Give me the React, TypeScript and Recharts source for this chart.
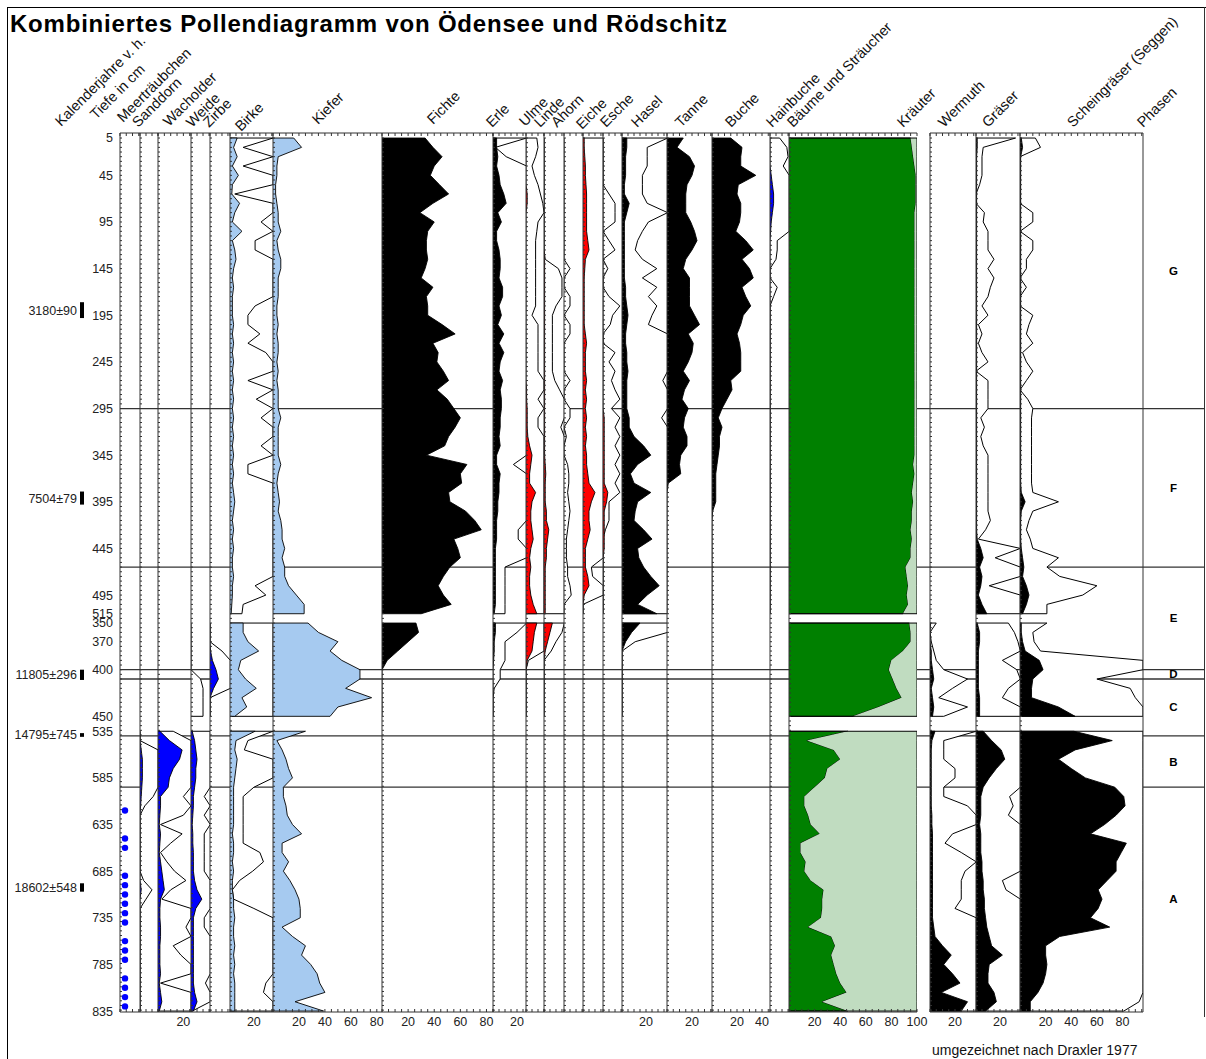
import React from "react";
import { ComposedChart, Area, Scatter, XAxis, YAxis, ReferenceLine, ReferenceArea } from "recharts";

const W = 1206;
const H = 1059;
const FONT = '"Liberation Sans", Arial, Helvetica, sans-serif';
const PLOT_TOP = 133;
const BOTTOM_GAP = 47; // plot ends at y = 1012
const Y_DOMAIN: [number, number] = [-5.4, 937];

const BLACK = "#000000";
const LBLUE = "#a6caf0";
const BLUE = "#0000ff";
const RED = "#ff0000";
const GREEN = "#008000";
const LGREEN = "#c0dcc0";

// sample depths (cm) of the three core sections
const depthTop = [5, 15, 25, 35, 45, 55, 65, 75, 85, 95, 105, 115, 125, 135, 145, 155, 165, 175, 185, 195, 205, 215, 225, 235, 245, 255, 265, 275, 285, 295, 305, 315, 325, 335, 345, 355, 365, 375, 385, 395, 405, 415, 425, 435, 445, 455, 465, 475, 485, 495, 505, 515];
const depthMid = [350, 360, 370, 380, 390, 400, 410, 420, 430, 440, 450];
const depthBot = [535, 545, 555, 565, 575, 585, 595, 605, 615, 625, 635, 645, 655, 665, 675, 685, 695, 705, 715, 725, 735, 745, 755, 765, 775, 785, 795, 805, 815, 825, 835];

// depth axis labels
const depthLabelsTop = [5, 45, 95, 145, 195, 245, 295, 345, 395, 445, 495, 515];
const depthLabelsMid = [350, 370, 400, 450];
const depthLabelsBot = [535, 585, 635, 685, 735, 785, 835];

// radiocarbon dates
const dateLabels = ["3180±90", "7504±79", "11805±296", "14795±745", "18602±548"];
const dateSection: Sec[] = ["top", "top", "mid", "bot", "bot"];
const dateFrom = [181, 384, 400, 537, 698];
const dateTo = [198, 398, 411, 541, 707];

// phases
const phaseNames = ["G", "F", "E", "D", "C", "B", "A"];
const phaseSection: Sec[] = ["top", "top", "top", "mid", "mid", "bot", "bot"];
const phaseDepth = [148, 380, 520, 405, 440, 568, 715];
const boundarySection: Sec[] = ["top", "top", "mid", "mid", "bot", "bot"];
const boundaryDepth = [295, 465, 400, 410, 540, 595];

// Meerträubchen: presence only
const meerDots = [620, 650, 660, 690, 700, 710, 720, 730, 740, 760, 770, 780, 800, 810, 820, 830];
const MEER_MARK = 4;

// percentages (…X = exaggerated curve)
const sandBot = [0, 0, 1, 2, 2, 2, 1.5, 1, 0.5, 0, 0, 0, 0, 0, 0, 0, 0, 1, 0, 0, 0, 0, 0, 0, 0, 0, 0, 0, 0, 0, 0];
const sandBotX = [0, 0, 15, 15, 15, 15, 15, 11, 4, 0, 0, 0, 0, 0, 0, 0, 3, 10, 5, 0, 0, 0, 0, 0, 0, 0, 0, 0, 0, 0, 0];

const wachBot = [1.5, 9, 19, 17, 12, 9, 8, 2, 2, 1.5, 1, 2, 1.5, 1, 2, 3, 4, 5, 2, 1.5, 1.5, 2, 2, 1.5, 1.5, 1.5, 2, 1, 2, 3, 1];
const wachBotX = [12, 26, 26, 26, 26, 26, 26, 20, 26, 20, 2, 19, 10, 2, 7, 13, 22, 10, 3, 26, 26, 22, 26, 12, 18, 26, 26, 2, 26, 26, 26];

const weideMidX = [0, 0, 0, 0, 0, 0, 8, 10, 10, 10, 10];
const weideBot = [1, 3, 4, 5, 4, 4, 3, 2, 2, 1.5, 1, 1.5, 1.5, 2, 2, 2, 3, 5, 9, 4, 2, 2, 2, 2, 2, 2, 2, 2, 3, 5, 2];
const weideBotX = [16, 16, 16, 16, 16, 16, 16, 11, 16, 11, 16, 11, 11, 11, 11, 11, 16, 16, 16, 16, 11, 11, 16, 16, 16, 16, 16, 12, 16, 16, 1];

const zirbeMid = [0, 0, 0, 0.5, 2, 5, 7, 3, 0, 0, 0];
const zirbeMidX = [0, 0, 0, 10, 17, 17, 17, 17, 0, 0, 0];

const birkeTop = [6, 3, 6, 2, 7, 2, 1.5, 8, 4, 2, 10, 2, 4, 5, 3, 2, 3, 2, 2, 2, 3, 2, 3, 2, 3, 2, 3, 2, 3, 2, 3, 2, 3, 2, 3, 2, 3, 2, 3, 4, 3, 2, 3, 2, 3, 2, 2, 3, 2, 2, 1.5, 1];
const birkeTopX = [36, 11, 36, 11, 36, 36, 4, 36, 36, 26, 36, 21, 21, 36, 36, 36, 36, 36, 21, 15, 15, 25, 15, 30, 36, 36, 15, 36, 22, 36, 26, 36, 36, 26, 36, 15, 15, 36, 36, 36, 36, 36, 36, 36, 36, 36, 36, 36, 21, 30, 11, 10];
const birkeMid = [11, 11, 15, 24, 9, 7, 13, 22, 10, 14, 4];
const birkeMidX = [36, 36, 36, 36, 36, 36, 36, 36, 36, 36, 36];
const birkeBot = [21, 5, 4, 6, 5, 4, 3, 3, 3, 3, 3, 2, 3, 3, 2, 3, 2, 2, 3, 3, 4, 3, 3, 4, 3, 4, 3, 4, 4, 4, 4];
const birkeBotX = [36, 15, 12, 36, 36, 36, 20, 11, 11, 11, 11, 11, 11, 25, 28, 19, 8, 2, 3, 20, 36, 36, 36, 36, 36, 36, 36, 30, 28, 36, 36];

const kieferTop = [16, 22, 4, 3, 3, 2, 2, 3, 4, 4, 6, 3, 4, 6, 6, 4, 4, 4, 3, 3, 4, 3, 4, 4, 3, 4, 3, 4, 4, 4, 6, 4, 4, 4, 4, 6, 4, 3, 4, 5, 4, 6, 7, 7, 9, 7, 9, 9, 12, 18, 24, 24];
const kieferMid = [27, 35, 50, 44, 53, 67, 67, 56, 76, 50, 44];
const kieferBot = [25, 3, 7, 10, 12, 15, 8, 8, 10, 11, 15, 22, 7, 7, 12, 8, 13, 17, 20, 21, 21, 7, 15, 25, 22, 29, 34, 36, 40, 17, 39];

const fichteTop = [33, 39, 46, 40, 37, 44, 51, 39, 29, 40, 35, 34, 34, 35, 33, 30, 39, 34, 35, 35, 46, 56, 39, 43, 42, 47, 51, 42, 50, 55, 60, 56, 51, 48, 34, 65, 60, 61, 51, 52, 64, 71, 76, 55, 58, 60, 52, 47, 43, 47, 53, 30];
const fichteMid = [26, 28, 20, 12, 4, 0, 0, 0, 0, 0, 0];

const erleTop = [3, 3, 4, 3, 5, 6, 9, 11, 4, 7, 3, 3, 5, 6, 6, 5, 8, 8, 5, 7, 4, 9, 5, 9, 6, 5, 8, 6, 7, 7, 6, 6, 5, 6, 3, 3, 6, 5, 5, 4, 4, 3, 3, 3, 2, 2, 2, 2, 2, 2, 2, 1];
const erleTopX = [28, 2, 11, 28, 28, 28, 28, 28, 28, 28, 28, 28, 28, 28, 28, 28, 28, 28, 28, 28, 28, 28, 28, 28, 28, 28, 28, 28, 28, 28, 28, 28, 28, 28, 28, 17, 28, 28, 28, 28, 28, 28, 21, 21, 28, 28, 10, 10, 10, 10, 10, 10];
const erleMid = [2, 2, 1, 1, 0.5, 0, 0, 0, 0, 0, 0];
const erleMidX = [28, 20, 10, 10, 10, 6, 6, 1, 0, 0, 0];

const ulmeTop = [0, 0, 0, 0, 0, 0, 1, 1, 0, 0, 0, 0, 0, 0, 0, 0, 0, 0, 0, 0, 0, 0, 0, 0, 0, 0, 0, 0.5, 0.5, 1, 1, 1, 1.5, 3, 5, 4, 3, 3, 8, 5, 4, 4, 5, 6, 4, 3, 4, 3, 3, 4, 6, 9];
const ulmeTopX = [9, 10, 8, 5, 7, 10, 12, 14, 15, 10, 9, 8, 8, 8, 8, 8, 8, 8, 8, 5, 10, 10, 10, 10, 10, 10, 15, 15, 10, 15, 10, 10, 15, 15, 15, 15, 15, 15, 15, 15, 15, 15, 15, 15, 15, 15, 15, 15, 15, 15, 15, 15];
const ulmeMid = [9, 7, 6, 5, 1, 0, 0, 0, 0, 0, 0];
const ulmeMidX = [15, 15, 15, 15, 2, 0, 0, 0, 0, 0, 0];

const lindeTop = [0, 0, 0, 0, 0, 0, 0, 0, 0, 0, 0, 0, 0, 0.5, 0.5, 0.5, 0.5, 0.5, 0.5, 0.5, 0.5, 0.5, 0.5, 0.5, 0.5, 0.5, 0.5, 0.5, 0.5, 0.5, 0.5, 0.5, 0.5, 0.5, 0.5, 1, 1.5, 1, 1, 1, 2, 2, 4, 3, 2, 2, 1, 1, 1, 1, 1, 1];
const lindeTopX = [0, 0, 0, 0, 0, 0, 0, 0, 0, 0, 0, 0, 0, 1, 12, 15, 15, 15, 10, 7, 7, 7, 7, 7, 7, 7, 9, 13, 17, 17, 17, 14, 17, 17, 17, 17, 17, 17, 17, 17, 17, 17, 17, 17, 17, 17, 17, 17, 17, 17, 17, 17];
const lindeMid = [7, 5, 3, 1, 0, 0, 0, 0, 0, 0, 0];
const lindeMidX = [17, 15, 10, 6, 0, 0, 0, 0, 0, 0, 0];

const ahornTopX = [0, 0, 0, 0, 0, 0, 0, 0, 0, 0, 0, 0, 0, 0, 5, 0, 0, 5, 5, 0, 5, 5, 0, 0, 0, 0, 5, 0, 0, 5, 5, 0, 2, 0, 0, 3, 4, 4, 3, 4, 5, 4, 3, 2, 2, 2, 3, 3, 5, 6, 0, 0];

const eicheTop = [1, 1, 1.5, 2, 2, 2.5, 3, 3, 3, 3, 3, 4, 5, 2, 1.5, 1, 1, 1, 1, 1, 1, 2, 3, 2, 2, 2, 3, 2, 3, 2, 3, 2, 3, 2, 3, 3, 4, 5, 10, 7, 5, 5, 6, 4, 2, 2, 2, 4, 5, 1, 0, 0];
const eicheTopX = [17, 17, 17, 17, 17, 17, 17, 17, 17, 17, 17, 17, 17, 17, 17, 17, 17, 17, 17, 17, 17, 17, 17, 17, 17, 17, 17, 17, 17, 17, 17, 17, 17, 17, 17, 17, 17, 17, 17, 17, 17, 17, 17, 17, 17, 17, 7, 8, 17, 17, 0, 0];

const escheTop = [0, 0, 0, 0, 0, 0, 0, 0, 0, 0, 0, 0, 0, 0, 0, 0, 0, 0, 0, 0, 0, 0, 0, 0, 0, 0, 0, 0, 0, 0, 1, 1, 1, 1, 1, 1, 1, 1, 4, 3, 1, 1, 1, 1, 1, 0, 0, 0, 0, 0, 0, 0];
const escheTopX = [0, 0, 0, 0, 0, 0, 5, 10, 10, 10, 0, 5, 10, 0, 4, 0, 0, 5, 14, 8, 6, 0, 0, 10, 5, 10, 7, 10, 14, 7, 14, 10, 14, 10, 14, 10, 14, 10, 14, 5, 5, 5, 2, 0, 0, 0, 0, 0, 0, 0, 0, 0];

const haselTop = [4, 4, 3, 3, 3, 2, 2, 6, 4, 2, 2, 2, 2, 2, 2, 2, 3, 3, 4, 5, 4, 3, 3, 4, 4, 5, 4, 4, 4, 4, 6, 6, 10, 18, 24, 13, 7, 10, 24, 13, 11, 10, 18, 25, 13, 14, 18, 24, 31, 21, 13, 29];
const haselTopX = [38, 21, 21, 21, 17, 17, 17, 21, 38, 22, 17, 13, 11, 17, 29, 17, 29, 22, 29, 25, 22, 38, 38, 38, 38, 38, 34, 38, 38, 38, 33, 38, 38, 38, 38, 38, 38, 38, 38, 38, 38, 38, 38, 38, 38, 38, 38, 38, 38, 38, 38, 38];
const haselMid = [15, 8, 3, 0, 0, 0, 0, 0, 0, 0, 0];
const haselMidX = [38, 38, 11, 0, 0, 0, 0, 0, 0, 0, 0];

const tanneTop = [13, 8, 18, 22, 20, 16, 15, 15, 15, 19, 22, 24, 20, 15, 13, 18, 18, 18, 18, 22, 26, 17, 21, 20, 17, 13, 18, 14, 12, 17, 14, 13, 16, 16, 11, 10, 11, 1, 0, 0, 0, 0, 0, 0, 0, 0, 0, 0, 0, 0, 0, 0];
const bucheTop = [15, 24, 23, 23, 35, 21, 20, 23, 23, 22, 19, 27, 33, 24, 30, 33, 24, 27, 31, 25, 23, 20, 22, 23, 23, 23, 15, 16, 12, 8, 5, 8, 6, 6, 5, 4, 3, 3, 3, 3, 0.5, 0, 0, 0, 0, 0, 0, 0, 0, 0, 0, 0];

const hainTop = [0, 0, 0, 0, 1, 2, 3, 3, 2, 1, 0.5, 0, 0, 0, 0, 0, 0, 0, 0, 0, 0, 0, 0, 0, 0, 0, 0, 0, 0, 0, 0, 0, 0, 0, 0, 0, 0, 0, 0, 0, 0, 0, 0, 0, 0, 0, 0, 0, 0, 0, 0, 0];
const hainTopX = [8, 14, 15, 11, 16, 16, 16, 16, 16, 16, 16, 6, 6, 5, 0, 0, 6, 3, 0, 0, 0, 0, 0, 0, 0, 0, 0, 0, 0, 0, 0, 0, 0, 0, 0, 0, 0, 0, 0, 0, 0, 0, 0, 0, 0, 0, 0, 0, 0, 0, 0, 0];

const baeumeTop = [95, 96, 97, 98, 99, 99, 99, 99, 98, 98, 98, 98, 98, 98, 98, 98, 98, 98, 98, 98, 98, 98, 98, 98, 98, 98, 98, 98, 98, 98, 98, 98, 98, 98, 98, 97, 98, 97, 96, 97, 96, 96, 95, 96, 95, 95, 91, 92, 93, 92, 93, 89];
const baeumeMid = [94, 95, 95, 89, 80, 78, 81, 84, 88, 70, 50];
const baeumeBot = [46, 14, 35, 40, 30, 28, 20, 12, 12, 15, 17, 24, 9, 9, 13, 12, 17, 27, 26, 26, 25, 15, 33, 36, 33, 35, 37, 40, 45, 26, 46];
// Kräuter share = the rest up to 100 %
const kraeuterTop = baeumeTop.map((v) => 100 - v);
const kraeuterMid = baeumeMid.map((v) => 100 - v);
const kraeuterBot = baeumeBot.map((v) => 100 - v);

const wermutMid = [0.5, 0, 0, 1, 1, 2, 3, 1, 2, 3, 2];
const wermutMidX = [5, 0, 1, 3, 5, 11, 30, 18, 7, 30, 11];
const wermutBot = [4, 1.5, 1, 1, 1, 1, 1, 1, 1, 1.5, 1.5, 2, 2, 2, 2, 2, 2, 2, 2, 2, 2, 3, 4, 10, 17, 11, 18, 24, 9, 30, 25];
const wermutBotX = [37, 11, 11, 11, 20, 20, 11, 11, 30, 37, 37, 18, 12, 25, 37, 28, 25, 25, 25, 20, 37, 37, 37, 37, 37, 37, 37, 37, 37, 37, 37];

const graeserTop = [1, 1, 0.5, 0.5, 0.5, 0.5, 0.5, 0.5, 0.5, 0.5, 0.5, 0.5, 0.5, 0.5, 0.5, 0.5, 0.5, 0.5, 0.5, 0.5, 0.5, 0.5, 0.5, 0.5, 0.5, 0.5, 0.5, 0.5, 0.5, 0.5, 0.5, 0.5, 0.5, 0.5, 0.5, 0.5, 0.5, 0.5, 0.5, 0.5, 0.5, 0.5, 0.5, 1, 4, 6, 3, 5, 4, 2, 5, 9];
const graeserTopX = [33, 6, 5, 5, 5, 3, 0, 0, 7, 6, 10, 10, 10, 15, 10, 15, 12, 10, 5, 10, 2, 5, 2, 5, 10, 0, 10, 10, 10, 10, 4, 7, 4, 6, 10, 10, 10, 10, 10, 10, 10, 12, 8, 2, 37, 16, 37, 37, 11, 37, 37, 37];
const graeserMid = [1, 3, 3, 2, 2, 2, 2, 2, 3, 3, 3];
const graeserMidX = [27, 32, 35, 37, 22, 34, 37, 27, 22, 37, 37];
const graeserBot = [6, 13, 21, 24, 17, 11, 6, 4, 4, 4, 3, 4, 4, 4, 5, 5, 6, 6, 7, 7, 8, 9, 11, 13, 22, 11, 10, 10, 15, 17, 8];
const graeserBotX = [37, 37, 37, 37, 37, 37, 37, 28, 31, 27, 37, 37, 37, 37, 37, 37, 22, 25, 37, 37, 37, 37, 37, 37, 37, 37, 37, 37, 37, 37, 37];

const scheinTop = [1, 2, 0.5, 0.5, 0.5, 0.5, 0.5, 0.5, 0.5, 0.5, 0.5, 0.5, 0.5, 0.5, 0.5, 0.5, 0.5, 0.5, 0.5, 0.5, 0.5, 0.5, 0.5, 0.5, 0.5, 0.5, 0.5, 0.5, 0.5, 0.5, 0.5, 0.5, 0.5, 0.5, 0.5, 0.5, 0.5, 0.5, 1, 4, 1, 0.5, 0.5, 0.5, 1, 2, 3, 2, 5, 7, 5, 2];
const scheinTopX = [12, 16, 0, 0, 0, 0, 0, 0, 10, 10, 0, 10, 10, 5, 5, 0, 5, 0, 0, 10, 7, 5, 10, 2, 5, 10, 5, 0, 6, 10, 9, 9, 9, 9, 9, 9, 9, 9, 10, 30, 10, 7, 5, 8, 10, 30, 21, 31, 60, 49, 21, 21];
const scheinMid = [1, 1, 2, 4, 15, 18, 10, 9, 9, 30, 43];
const scheinMidX = [21, 10, 11, 16, 96, 96, 60, 86, 90, 96, 96];
const scheinBot = [42, 72, 43, 30, 40, 51, 74, 81, 82, 75, 66, 55, 83, 79, 75, 75, 68, 61, 64, 61, 55, 70, 31, 20, 20, 21, 20, 18, 14, 8, 8];
const scheinBotX = [96, 96, 96, 96, 96, 96, 96, 96, 96, 96, 96, 96, 96, 96, 96, 96, 96, 96, 96, 96, 96, 96, 96, 96, 96, 96, 96, 96, 96, 93, 81];

// column headings
const headerText = ["Kalenderjahre v. h.", "Tiefe in cm", "Meerträubchen", "Sanddorn", "Wacholder", "Weide", "Zirbe", "Birke", "Kiefer", "Fichte", "Erle", "Ulme", "Linde", "Ahorn", "Eiche", "Esche", "Hasel", "Tanne", "Buche", "Hainbuche", "Bäume und Sträucher", "Kräuter", "Wermuth", "Gräser", "Scheingräser (Seggen)", "Phasen"];
const headerX = [61, 96, 123, 138, 169, 192, 209, 241, 318, 433, 492, 525, 540, 557, 582, 606, 637, 681, 731, 772, 793, 903, 944, 988, 1073, 1143];
const headerY = [127, 120, 123, 128, 127, 128, 128, 132, 125, 125, 128, 127, 128, 128, 130, 128, 128, 128, 128, 128, 128, 128, 128, 128, 128, 128];

type Sec = "top" | "mid" | "bot";
type Sections = [number[] | null, number[] | null, number[] | null];

const toPos = (sec: Sec, d: number) => (sec === "top" ? d - 5 : sec === "mid" ? d - 350 + 520 : d - 535 + 636);

const SECTIONS: { id: Sec; depths: number[] }[] = [
  { id: "top", depths: depthTop },
  { id: "mid", depths: depthMid },
  { id: "bot", depths: depthBot },
];

interface PanelDef {
  id: string;
  left: number;
  width: number;
  max: number;
  color?: string;
  main?: Sections;
  exag?: Sections;
  rest?: Sections;
  dots?: number[];
}

const panels: PanelDef[] = [
  { id: "meer", left: 120, width: 20, max: 16, dots: meerDots },
  { id: "sand", left: 140, width: 18, max: 15, color: BLUE, main: [null, null, sandBot], exag: [null, null, sandBotX] },
  { id: "wach", left: 158, width: 33, max: 26, color: BLUE, main: [null, null, wachBot], exag: [null, null, wachBotX] },
  { id: "weide", left: 191, width: 19, max: 15.8, color: BLUE, main: [null, null, weideBot], exag: [null, weideMidX, weideBotX] },
  { id: "zirbe", left: 210, width: 20, max: 16.7, color: BLUE, main: [null, zirbeMid, null], exag: [null, zirbeMidX, null] },
  { id: "birke", left: 230, width: 43, max: 36, color: LBLUE, main: [birkeTop, birkeMid, birkeBot], exag: [birkeTopX, birkeMidX, birkeBotX] },
  { id: "kiefer", left: 273, width: 109, max: 84, color: LBLUE, main: [kieferTop, kieferMid, kieferBot] },
  { id: "fichte", left: 382, width: 111, max: 85, color: BLACK, main: [fichteTop, fichteMid, null] },
  { id: "erle", left: 493, width: 33, max: 27.5, color: BLACK, main: [erleTop, erleMid, null], exag: [erleTopX, erleMidX, null] },
  { id: "ulme", left: 526, width: 18, max: 15, color: RED, main: [ulmeTop, ulmeMid, null], exag: [ulmeTopX, ulmeMidX, null] },
  { id: "linde", left: 544, width: 20, max: 16.7, color: RED, main: [lindeTop, lindeMid, null], exag: [lindeTopX, lindeMidX, null] },
  { id: "ahorn", left: 564, width: 19, max: 15.8, color: RED, exag: [ahornTopX, null, null] },
  { id: "eiche", left: 583, width: 20, max: 16.7, color: RED, main: [eicheTop, null, null], exag: [eicheTopX, null, null] },
  { id: "esche", left: 603, width: 19, max: 15.8, color: RED, main: [escheTop, null, null], exag: [escheTopX, null, null] },
  { id: "hasel", left: 622, width: 45, max: 37.5, color: BLACK, main: [haselTop, haselMid, null], exag: [haselTopX, haselMidX, null] },
  { id: "tanne", left: 667, width: 45, max: 36, color: BLACK, main: [tanneTop, null, null] },
  { id: "buche", left: 712, width: 58, max: 46.4, color: BLACK, main: [bucheTop, null, null] },
  { id: "hain", left: 770, width: 19, max: 15.8, color: BLUE, main: [hainTop, null, null], exag: [hainTopX, null, null] },
  { id: "baeume", left: 789, width: 128, max: 100, color: GREEN, main: [baeumeTop, baeumeMid, baeumeBot], rest: [kraeuterTop, kraeuterMid, kraeuterBot] },
  { id: "wermut", left: 930, width: 46, max: 36.8, color: BLACK, main: [null, wermutMid, wermutBot], exag: [null, wermutMidX, wermutBotX] },
  { id: "graeser", left: 976, width: 44, max: 36.7, color: BLACK, main: [graeserTop, graeserMid, graeserBot], exag: [graeserTopX, graeserMidX, graeserBotX] },
  { id: "schein", left: 1020, width: 123, max: 96, color: BLACK, main: [scheinTop, scheinMid, scheinBot], exag: [scheinTopX, scheinMidX, scheinBotX] },
];

type Row = Record<string, number | null | string>;

// one row per sample, closed with zero rows at the section ends, null row between sections
function buildRows(p: PanelDef): Row[] {
  if (p.dots) return p.dots.map((d) => ({ pos: toPos("bot", d), dot: MEER_MARK }));
  const series: [string, Sections | undefined][] = [["v", p.main], ["x", p.exag], ["r", p.rest]];
  const rows: Row[] = [];
  SECTIONS.forEach((sec, si) => {
    if (!series.some(([, s]) => s && s[si])) return;
    const first = toPos(sec.id, sec.depths[0]);
    const last = toPos(sec.id, sec.depths[sec.depths.length - 1]);
    const edge = (pos: number) => {
      const r: Row = { pos };
      series.forEach(([k, s]) => (r[k] = s && s[si] ? 0 : null));
      return r;
    };
    rows.push(edge(first));
    sec.depths.forEach((d, i) => {
      const r: Row = { pos: toPos(sec.id, d) };
      series.forEach(([k, s]) => {
        const arr = s ? s[si] : null;
        r[k] = arr ? arr[i] : null;
      });
      rows.push(r);
    });
    rows.push(edge(last));
    const br: Row = { pos: last + 2 };
    series.forEach(([k]) => (br[k] = null));
    rows.push(br);
  });
  return rows;
}

const yTicks: number[] = [];
for (let v = 0; v <= 935; v += 5) yTicks.push(v);

const xTicks = (max: number) => {
  const t: number[] = [];
  for (let v = 0; v <= max + 0.001; v += 5) t.push(v);
  return t;
};

const Blank = () => <g />;
const fmtX = (v: number) => (v > 0 && v % 20 === 0 ? String(v) : "");

const axisTick = { fontSize: 12.5, fill: "#222", fontFamily: FONT };

function Panel({ p }: { p: PanelDef }) {
  const padL = 8;
  const padR = 14;
  const rows = buildRows(p);
  const ticks = xTicks(p.max);
  // axes get a 1px size so that recharts draws them; margins make up for it
  return (
    <div style={{ position: "absolute", left: p.left - padL, top: 0 }}>
      <ComposedChart width={p.width + padL + padR} height={H} data={rows} layout="vertical" margin={{ top: PLOT_TOP - 1, right: padR, bottom: BOTTOM_GAP - 30, left: padL - 1 }}>
        <XAxis xAxisId="b" type="number" domain={[0, p.max]} allowDataOverflow ticks={ticks} interval={0} tickSize={-3} tickMargin={8} tickFormatter={fmtX} height={30} stroke="#333" tick={axisTick} />
        <XAxis xAxisId="t" orientation="top" type="number" domain={[0, p.max]} allowDataOverflow ticks={ticks} interval={0} tickSize={-3} height={1} stroke="#333" tick={Blank} />
        <YAxis type="number" dataKey="pos" domain={Y_DOMAIN} allowDataOverflow width={1} ticks={yTicks} interval={0} tickSize={-2} stroke="#333" tick={Blank} />
        {p.exag && (
          <Area xAxisId="b" dataKey="x" type="linear" fill="#ffffff" fillOpacity={1} stroke="#000" strokeWidth={1} dot={false} activeDot={false} isAnimationActive={false} />
        )}
        {p.main && (
          <Area xAxisId="b" dataKey="v" type="linear" stackId={p.rest ? "bk" : undefined} fill={p.color} fillOpacity={1} stroke="#000" strokeWidth={0.9} dot={false} activeDot={false} isAnimationActive={false} />
        )}
        {p.rest && (
          <Area xAxisId="b" dataKey="r" type="linear" stackId="bk" fill={LGREEN} fillOpacity={1} stroke="#000" strokeWidth={1} dot={false} activeDot={false} isAnimationActive={false} />
        )}
        {p.dots && (
          <Scatter xAxisId="b" dataKey="dot" isAnimationActive={false} shape={(s: any) => <circle cx={s.cx} cy={s.cy} r={3.2} fill={BLUE} />} />
        )}
      </ComposedChart>
    </div>
  );
}

const depthTicks = [...depthLabelsTop.map((d) => toPos("top", d)), ...depthLabelsMid.map((d) => toPos("mid", d)), ...depthLabelsBot.map((d) => toPos("bot", d))];
const depthText = new Map<number, string>();
depthLabelsTop.forEach((d) => depthText.set(toPos("top", d), String(d)));
depthLabelsMid.forEach((d) => depthText.set(toPos("mid", d), String(d)));
depthLabelsBot.forEach((d) => depthText.set(toPos("bot", d), String(d)));
const axisRows = [{ pos: 0 }, { pos: 936 }];

function DepthAxis() {
  return (
    <div style={{ position: "absolute", left: 0, top: 0 }}>
      <ComposedChart width={140} height={H} data={axisRows} layout="vertical" margin={{ top: PLOT_TOP, right: 10, bottom: BOTTOM_GAP, left: 0 }}>
        <XAxis type="number" hide height={0} domain={[0, 1]} allowDataOverflow />
        <YAxis type="number" dataKey="pos" domain={Y_DOMAIN} allowDataOverflow width={120} ticks={depthTicks} interval={0} tickFormatter={(v: number) => depthText.get(v) ?? ""} tickLine={false} axisLine={false} tickSize={0} tickMargin={7} tick={axisTick} />
      </ComposedChart>
    </div>
  );
}

function Dates() {
  return (
    <div style={{ position: "absolute", left: 0, top: 0 }}>
      <ComposedChart width={90} height={H} data={axisRows} layout="vertical" margin={{ top: PLOT_TOP, right: 6, bottom: BOTTOM_GAP, left: 80 }}>
        <XAxis type="number" hide height={0} domain={[0, 1]} allowDataOverflow />
        <YAxis type="number" dataKey="pos" hide width={0} domain={Y_DOMAIN} allowDataOverflow />
        {dateLabels.map((t, i) => (
          <ReferenceArea
            key={t}
            x1={0}
            x2={1}
            y1={toPos(dateSection[i], dateFrom[i])}
            y2={toPos(dateSection[i], dateTo[i])}
            fill="#000"
            fillOpacity={1}
            stroke="none"
            ifOverflow="visible"
            label={{ value: t, position: "left", offset: 3, fontSize: 12.5, fill: "#222", fontFamily: FONT }}
          />
        ))}
      </ComposedChart>
    </div>
  );
}

function PhaseLines() {
  return (
    <div style={{ position: "absolute", left: 120, top: 0 }}>
      <ComposedChart width={1084} height={H} data={axisRows} layout="vertical" margin={{ top: PLOT_TOP, right: 0, bottom: BOTTOM_GAP, left: 0 }}>
        <XAxis type="number" hide height={0} domain={[0, 1]} allowDataOverflow />
        <YAxis type="number" dataKey="pos" hide width={0} domain={Y_DOMAIN} allowDataOverflow />
        {boundaryDepth.map((d, i) => (
          <ReferenceLine key={i} y={toPos(boundarySection[i], d)} stroke="#333" strokeWidth={1.3} ifOverflow="visible" />
        ))}
      </ComposedChart>
    </div>
  );
}

const phaseRows = phaseNames.map((n, i) => ({ pos: toPos(phaseSection[i], phaseDepth[i]), x: 0.5, name: n }));

function Phases() {
  return (
    <div style={{ position: "absolute", left: 1139, top: 0 }}>
      <ComposedChart width={65} height={H} data={phaseRows} layout="vertical" margin={{ top: PLOT_TOP, right: 0, bottom: BOTTOM_GAP, left: 3 }}>
        <XAxis type="number" hide height={0} domain={[0, 1]} allowDataOverflow />
        <YAxis type="number" dataKey="pos" domain={Y_DOMAIN} allowDataOverflow width={1} ticks={[0]} tick={Blank} tickLine={false} stroke="#333" />
        <Scatter
          dataKey="x"
          isAnimationActive={false}
          shape={(s: any) => (
            <text x={s.cx} y={s.cy} textAnchor="middle" dominantBaseline="central" fontSize={11.5} fontWeight={900} fontFamily={FONT} fill="#000">
              {s.payload.name}
            </text>
          )}
        />
      </ComposedChart>
    </div>
  );
}

export default function App() {
  return (
    <div style={{ position: "absolute", left: 0, top: 0, width: W, height: H, background: "#fff", overflow: "hidden", fontFamily: FONT }}>
      <div style={{ position: "absolute", left: 7, top: 7, width: 1300, height: 1100, borderTop: "1px solid #000", borderLeft: "1px solid #000" }} />
      <div style={{ position: "absolute", left: 1204, top: 7, width: 0, height: 1010, borderLeft: "1px solid #333" }} />
      <PhaseLines />
      {panels.map((p) => (
        <Panel key={p.id} p={p} />
      ))}
      <DepthAxis />
      <Dates />
      <Phases />
      <svg width={W} height={H} style={{ position: "absolute", left: 0, top: 0, pointerEvents: "none" }}>
        <text x={10} y={32} fontFamily={FONT} fontWeight={700} fontSize={24} textLength={717} lengthAdjust="spacing" fill="#000">
          Kombiniertes Pollendiagramm von Ödensee und Rödschitz
        </text>
        {headerText.map((t, i) => (
          <text key={t} x={headerX[i]} y={headerY[i]} transform={`rotate(-45 ${headerX[i]} ${headerY[i]})`} fontSize={14.5} fontFamily={FONT} fill="#111">
            {t}
          </text>
        ))}
        <text x={932} y={1055} fontSize={14} fontFamily={FONT} fill="#111">
          umgezeichnet nach Draxler 1977
        </text>
      </svg>
    </div>
  );
}
